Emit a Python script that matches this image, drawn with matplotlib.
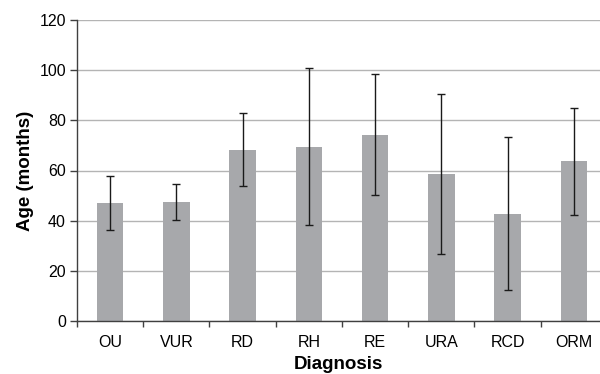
import matplotlib.pyplot as plt
import numpy as np
from matplotlib.ticker import FixedLocator

plt.rcParams["font.family"] = ["Liberation Sans", "DejaVu Sans"]

diagnosis = ["OU", "VUR", "RD", "RH", "RE", "URA", "RCD", "ORM"]
mean_age = [46.9, 47.4, 68.2, 69.5, 74.2, 58.6, 42.8, 63.7]
upper = [57.8, 54.8, 82.8, 100.9, 98.5, 90.4, 73.4, 84.8]
lower = [36.3, 40.1, 53.8, 38.2, 50.2, 26.7, 12.4, 42.4]

mean = np.array(mean_age)
yerr = [mean - np.array(lower), np.array(upper) - mean]
x = np.arange(len(diagnosis))

fig = plt.figure(figsize=(6.0, 3.74), dpi=100)
ax = fig.add_axes([77 / 600, 1 - 321 / 374, 523 / 600, 301 / 374])

ax.yaxis.grid(True, color="#b4b4b4", linewidth=1.0)
ax.set_axisbelow(True)
ax.bar(x, mean, width=0.4, color="#a7a8ab", zorder=2)
ax.errorbar(x, mean, yerr=yerr, fmt="none", ecolor="#1a1a1a",
            elinewidth=1.0, capsize=3, capthick=1.0, zorder=3)

ax.set_xlim(-0.5, 7.395)
ax.set_ylim(0, 120)
ax.set_yticks(range(0, 121, 20))
ax.set_xticks(x)
ax.set_xticklabels(diagnosis)
ax.xaxis.set_minor_locator(FixedLocator(np.arange(-0.5, 7.5, 1.0)))
ax.tick_params(axis="x", which="major", length=0, pad=10, labelsize=11.5)
ax.tick_params(axis="x", which="minor", length=4, width=1, color="#404040")
ax.tick_params(axis="y", length=5, width=1, color="#404040", pad=3, labelsize=11.5)

for side in ("top", "right"):
    ax.spines[side].set_visible(False)
for side in ("left", "bottom"):
    ax.spines[side].set_color("#404040")
    ax.spines[side].set_linewidth(1.0)

ax.set_ylabel("Age (months)", fontsize=13.5, fontweight="bold", labelpad=4)
ax.set_xlabel("Diagnosis", fontsize=13.5, fontweight="bold", labelpad=4.5)

fig.savefig("out.png", dpi=100)
